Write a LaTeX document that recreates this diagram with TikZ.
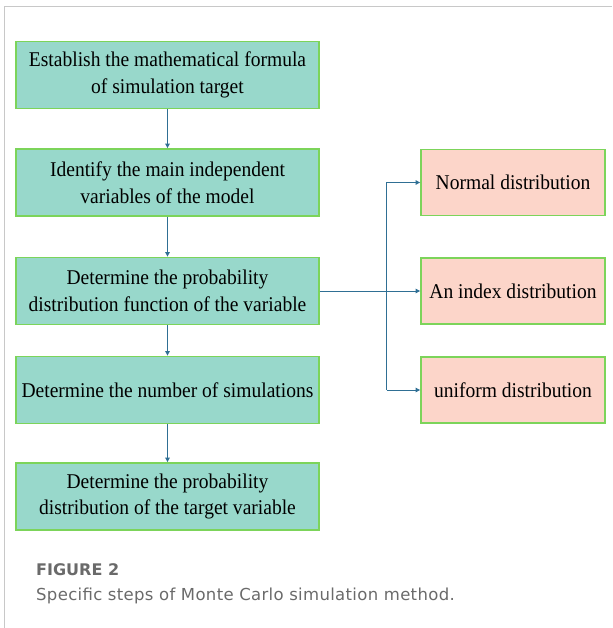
\documentclass[tikz,border=0pt]{standalone}
\usepackage{fontspec}
\setmainfont{Liberation Serif}[FakeStretch=0.93]
\newfontfamily\capfont{DejaVu Sans}[LetterSpace=2]
\newfontfamily\capbold{DejaVu Sans}
\usetikzlibrary{arrows.meta}
\definecolor{tealfill}{HTML}{98D8CB}
\definecolor{pinkfill}{HTML}{FCD5C9}
\definecolor{boxedge}{HTML}{7CD45A}
\definecolor{arrowc}{HTML}{2F6F94}
\definecolor{framec}{HTML}{C8C8C8}
\definecolor{capc}{HTML}{6A6A6A}
\begin{document}
\begin{tikzpicture}[x=1pt,y=-1pt,
  stepbox/.style={draw=boxedge,line width=1.8pt,fill=tealfill,minimum width=303pt,minimum height=67pt,align=center,font=\fontsize{21}{26.5}\selectfont,inner sep=2pt},
  distbox/.style={draw=boxedge,line width=1.8pt,fill=pinkfill,minimum width=184pt,minimum height=66pt,align=center,font=\fontsize{21}{26.5}\selectfont,inner sep=2pt},
  conn/.style={draw=arrowc,line width=0.9pt,-{Triangle[length=4.5pt,width=4.5pt]}},
  line/.style={draw=arrowc,line width=0.9pt}]
\useasboundingbox (0,0) rectangle (612,628);
\draw[framec,line width=1pt] (4,628) -- (4,6.5) -- (612,6.5);
\node[stepbox] (s1) at (167.5,75) {Establish the mathematical formula\\of simulation target};
\node[stepbox] (s2) at (167.5,182.5) {Identify the main independent\\variables of the model};
\node[stepbox] (s3) at (167.5,291) {Determine the probability\\distribution function of the variable};
\node[stepbox] (s4) at (167.5,390) {Determine the number of simulations};
\node[stepbox] (s5) at (167.5,496.5) {Determine the probability\\distribution of the target variable};
\node[distbox] (d1) at (513,182.5) {Normal distribution};
\node[distbox] (d2) at (513,291) {An index distribution};
\node[distbox] (d3) at (513,390) {uniform distribution};
\coordinate (jt) at (386.5,182.5);
\coordinate (jb) at (386.5,390);
\draw[conn] (s1) -- (s2);
\draw[conn] (s2) -- (s3);
\draw[conn] (s3) -- (s4);
\draw[conn] (s4) -- (s5);
\draw[conn] (s3) -- (d2);
\draw[line] (jt) -- (jb);
\draw[conn] (jt) -- (d1);
\draw[conn] (jb) -- (d3);
\node[anchor=base west,inner sep=0pt,text=capc,font=\capbold\fontsize{16}{18}\selectfont\bfseries] (cap1) at (36,575) {FIGURE 2};
\node[anchor=base west,inner sep=0pt,text=capc,font=\capfont\fontsize{16.5}{18}\selectfont] (cap2) at (36,600) {Specific steps of Monte Carlo simulation method.};
\end{tikzpicture}
\end{document}
